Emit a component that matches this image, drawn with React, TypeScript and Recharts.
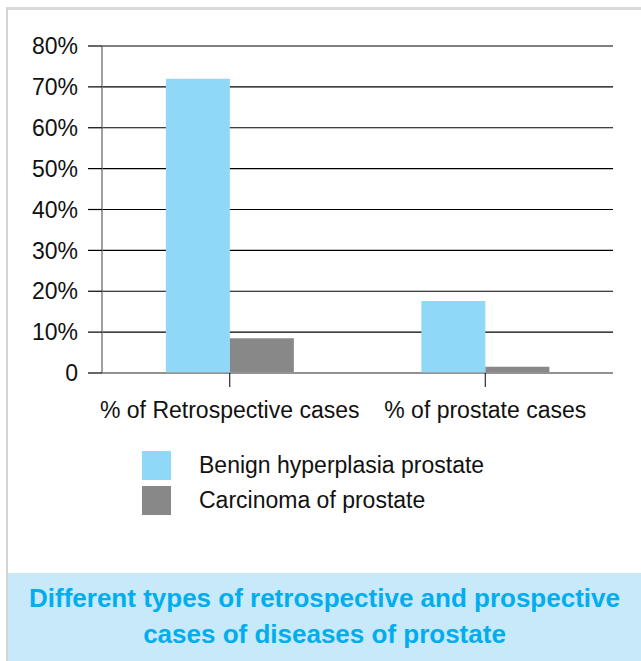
import type { FC } from "react";
import { BarChart, Bar, XAxis, YAxis, CartesianGrid } from "recharts";

const CATEGORIES = ["% of Retrospective cases", "% of prostate cases"];
const BENIGN = [72, 17.6];
const CARCINOMA = [8.5, 1.5];
const Y_TICKS = [0, 10, 20, 30, 40, 50, 60, 70, 80];
const SERIES = ["Benign hyperplasia prostate", "Carcinoma of prostate"];
const COLORS = ["#8fd8f7", "#888888"];
const TITLE_LINES = [
  "Different types of retrospective and prospective",
  "cases of diseases of prostate",
];

const FONT = "'Liberation Sans', Arial, Helvetica, sans-serif";

const data = CATEGORIES.map((name, i) => ({
  name,
  benign: BENIGN[i],
  carcinoma: CARCINOMA[i],
}));

const App: FC = () => {
  return (
    <div
      style={{
        position: "absolute",
        left: 0,
        top: 0,
        width: 641,
        height: 661,
        background: "#fff",
        fontFamily: FONT,
        overflow: "hidden",
      }}
    >
      {/* frame */}
      <div
        style={{
          position: "absolute",
          left: 6,
          top: 7,
          width: 660,
          height: 680,
          borderTop: "3px solid #d9d9d9",
          borderLeft: "2px solid #d4d4d4",
        }}
      />

      <div style={{ position: "absolute", left: 0, top: 0 }}>
        <BarChart
          width={641}
          height={440}
          data={data}
          margin={{ top: 46, right: 28, bottom: 7, left: 0 }}
          barCategoryGap="25%"
          barGap={0}
        >
          <CartesianGrid horizontal vertical={false} stroke="#000" strokeWidth={1.2} />
          <XAxis
            dataKey="name"
            height={60}
            tickSize={14}
            tickMargin={15}
            axisLine={{ stroke: "#999", strokeWidth: 1.5 }}
            tickLine={{ stroke: "#000" }}
            tick={{ fill: "#111", fontSize: 23, fontFamily: FONT }}
            interval={0}
          />
          <YAxis
            width={102}
            domain={[0, 80]}
            ticks={Y_TICKS}
            interval={0}
            tickSize={14}
            tickMargin={10}
            tickFormatter={(v: number) => (v === 0 ? "0" : `${v}%`)}
            axisLine={{ stroke: "#808080", strokeWidth: 1.5 }}
            tickLine={{ stroke: "#000", strokeWidth: 1.2 }}
            tick={{ fill: "#111", fontSize: 23, fontFamily: FONT }}
          />
          <Bar dataKey="benign" name={SERIES[0]} fill={COLORS[0]} isAnimationActive={false} />
          <Bar dataKey="carcinoma" name={SERIES[1]} fill={COLORS[1]} isAnimationActive={false} />
        </BarChart>
      </div>

      {/* legend */}
      <div style={{ position: "absolute", left: 142, top: 451 }}>
        {SERIES.map((label, i) => (
          <div
            key={label}
            style={{ display: "flex", alignItems: "center", height: 29, marginBottom: 6 }}
          >
            <span
              style={{ width: 29, height: 29, background: COLORS[i], display: "inline-block" }}
            />
            <span style={{ marginLeft: 28, fontSize: 23, color: "#111" }}>{label}</span>
          </div>
        ))}
      </div>

      {/* title panel */}
      <div
        style={{
          position: "absolute",
          left: 8,
          top: 573,
          width: 633,
          height: 88,
          background: "#c7e9f9",
          color: "#00aeef",
          fontWeight: "bold",
          fontSize: 26,
          lineHeight: "36px",
          textAlign: "center",
          paddingTop: 7,
          boxSizing: "border-box",
        }}
      >
        {TITLE_LINES.map((line) => (
          <div key={line}>{line}</div>
        ))}
      </div>
    </div>
  );
};

export default App;
